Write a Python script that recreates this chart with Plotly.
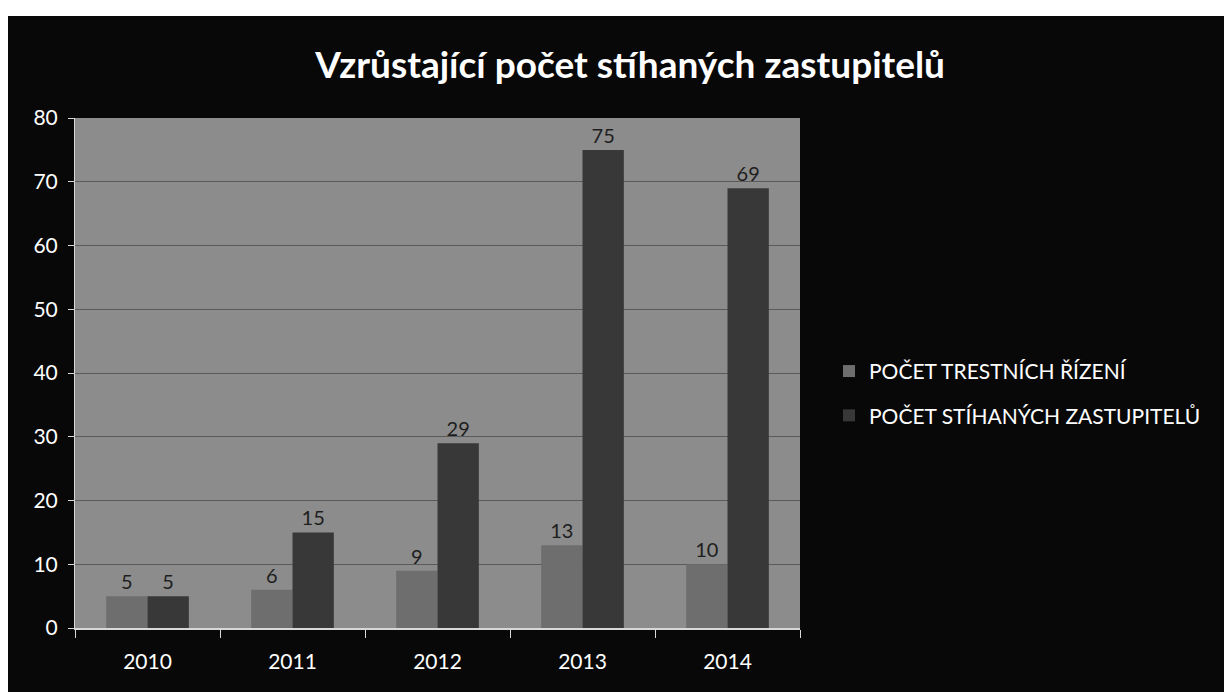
import plotly.graph_objects as go

years = ["2010", "2011", "2012", "2013", "2014"]
trestni_rizeni = [5, 6, 9, 13, 10]
stihani_zastupitele = [5, 15, 29, 75, 69]
series_names = ["POČET TRESTNÍCH ŘÍZENÍ", "POČET STÍHANÝCH ZASTUPITELŮ"]
title_text = "Vzrůstající počet stíhaných zastupitelů"

FONT = "Lato, 'Open Sans', sans-serif"

fig = go.Figure()
fig.add_trace(go.Bar(
    x=years, y=trestni_rizeni, name=series_names[0], legendgroup="a",
    marker=dict(color="#6e6e6e", line=dict(width=0)),
    text=trestni_rizeni, textposition="outside",
    textfont=dict(color="#1e1e1e", size=20, family=FONT), cliponaxis=False,
))
fig.add_trace(go.Bar(
    x=years, y=stihani_zastupitele, name=series_names[1], legendgroup="b",
    marker=dict(color="#383838", line=dict(width=0)),
    text=stihani_zastupitele, textposition="outside",
    textfont=dict(color="#1e1e1e", size=20, family=FONT), cliponaxis=False,
))

fig.update_layout(
    width=1232, height=692,
    margin=dict(l=67, r=440, t=110, b=72),
    paper_bgcolor="#080808",
    plot_bgcolor="#8c8c8c",
    barmode="group", bargap=0.43, bargroupgap=0,
    title=dict(text="<b>" + title_text + "</b>", x=0.505, xanchor="center",
               y=0.918, yanchor="middle",
               font=dict(color="white", size=37, family=FONT)),
    legend=dict(x=1.04, y=0.46, xanchor="left", yanchor="middle",
                font=dict(color="white", size=21, family=FONT),
                bgcolor="rgba(0,0,0,0)", tracegroupgap=14, itemwidth=30),
    font=dict(family=FONT, color="white"),
    xaxis=dict(showline=True, linecolor="#d8d8d8", linewidth=2,
               ticks="outside", tickson="boundaries", ticklen=8, tickcolor="#d8d8d8",
               ticklabelstandoff=14,
               tickfont=dict(color="white", size=21, family=FONT),
               showgrid=False),
    yaxis=dict(range=[0, 80], dtick=10, showline=True, linecolor="#d8d8d8", linewidth=1,
               ticks="outside", ticklen=6, tickcolor="#d8d8d8",
               ticklabelstandoff=6,
               tickfont=dict(color="white", size=21, family=FONT),
               gridcolor="#5a5a5a", gridwidth=1, zeroline=False),
    shapes=[
        dict(type="rect", xref="paper", yref="paper", x0=-0.2, x1=1.7,
             y0=1.2, y1=1.25, fillcolor="white", line=dict(width=0), layer="above"),
    ],
)

fig.write_html("out.html")
